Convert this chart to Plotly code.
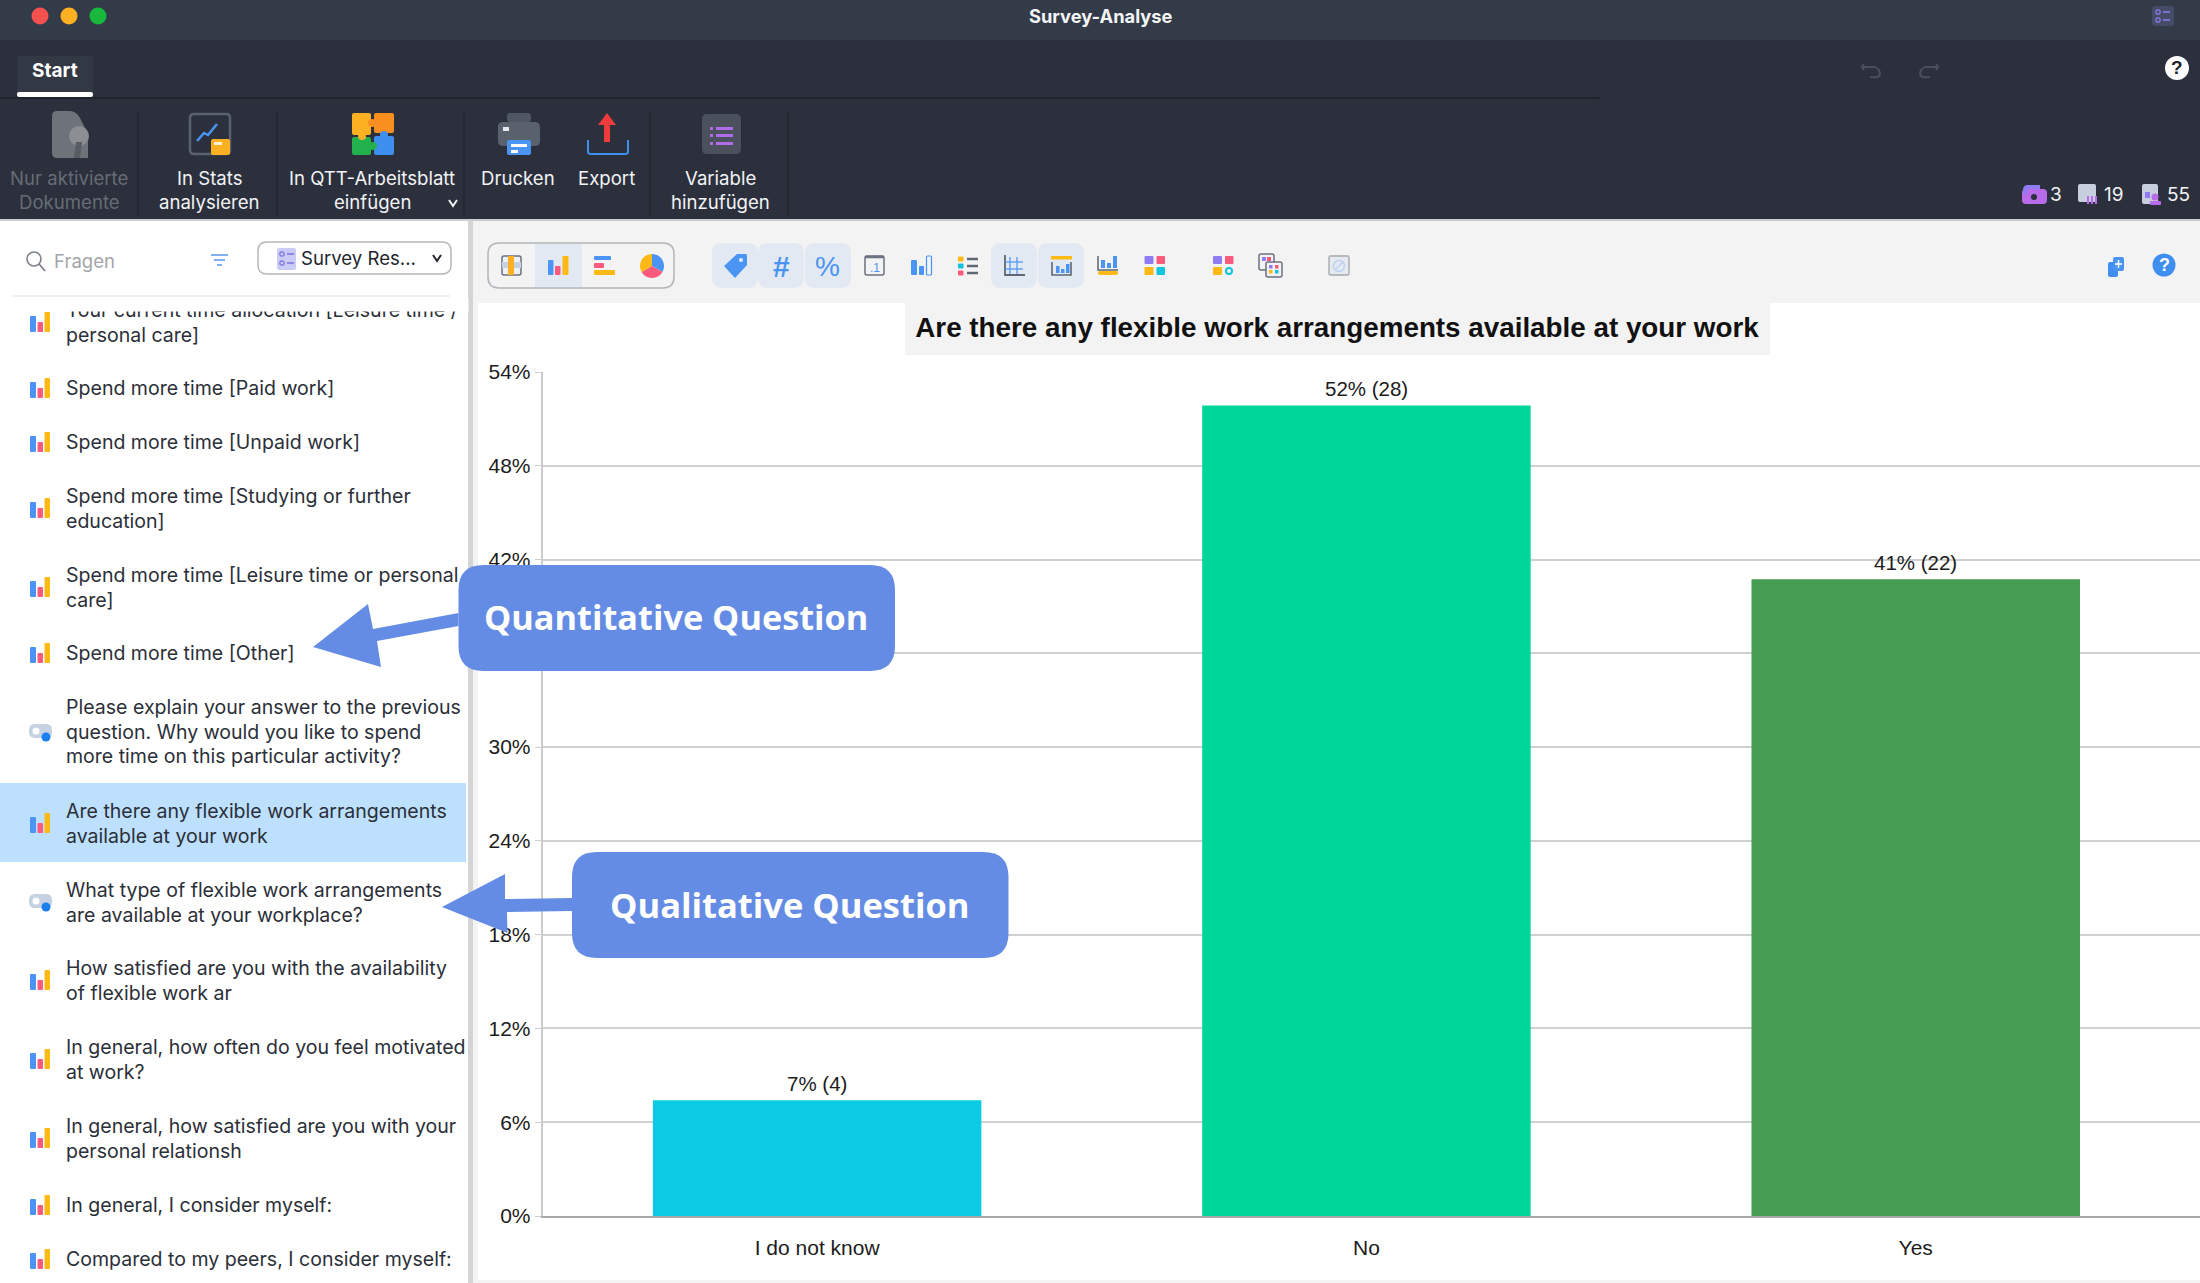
#!/usr/bin/env python3
import math
import re

import plotly.graph_objects as go

W = 2200
H = 1283

# chart data
categories = ["I do not know", "No", "Yes"]
percent_values = [7.41, 51.85, 40.74]
count_values = [4, 28, 22]
percent_labels = ["7%", "52%", "41%"]
bar_colors = ["#0bcce4", "#00d69a", "#459c53"]
y_ticks = [0, 6, 12, 18, 24, 30, 36, 42, 48, 54]
y_tick_labels = ["0%", "6%", "12%", "18%", "24%", "30%", "36%", "42%", "48%", "54%"]

chart_title = "Are there any flexible work arrangements available at your work"

# sidebar text, one entry per row
question_lines = [
    ["Your current time allocation [Leisure time /", "personal care]"],
    ["Spend more time [Paid work]"],
    ["Spend more time [Unpaid work]"],
    ["Spend more time [Studying or further", "education]"],
    ["Spend more time [Leisure time or personal", "care]"],
    ["Spend more time [Other]"],
    ["Please explain your answer to the previous", "question. Why would you like to spend", "more time on this particular activity?"],
    ["Are there any flexible work arrangements", "available at your work"],
    ["What type of flexible work arrangements", "are available at your workplace?"],
    ["How satisfied are you with the availability", "of flexible work ar"],
    ["In general, how often do you feel motivated", "at work?"],
    ["In general, how satisfied are you with your", "personal relationsh"],
    ["In general, I consider myself:"],
    ["Compared to my peers, I consider myself:"],
]
question_first_y = [310, 388, 442, 496, 575, 653, 707, 811, 890, 968, 1047, 1126, 1205, 1259]
question_icon_y = [322, 388, 442, 508, 587, 653, 732, 823, 902, 980, 1059, 1138, 1205, 1259]
question_kind = ["q", "q", "q", "q", "q", "q", "t", "q", "t", "q", "q", "q", "q", "q"]

ribbon_labels = [
    (69, ["Nur aktivierte", "Dokumente"], "#666c75"),
    (209, ["In Stats", "analysieren"], "#f2f3f5"),
    (372, ["In QTT-Arbeitsblatt", "einfügen"], "#f2f3f5"),
    (518, ["Drucken"], "#f2f3f5"),
    (607, ["Export"], "#f2f3f5"),
    (721, ["Variable", "hinzufügen"], "#f2f3f5"),
]

BLUE = "#4a94f4"
PINK = "#fb5a7c"
YELLOW = "#ffb914"
CYAN = "#0fc4dc"
PURPLE = "#8f7cf5"
SLATE = "#5f6773"
CALLOUT = "#648ce4"
SANS = "Liberation Sans"
UI = "Inter"

shapes = []
notes = []


def px_path(d):
    # path written in window pixels, turned into paper fractions
    out = []
    is_x = True
    for tok in re.findall(r"[A-Za-z]|-?[\d.]+", d):
        if tok.isalpha():
            out.append(tok)
            is_x = True
        elif is_x:
            out.append(f"{float(tok) / W:.5f}")
            is_x = False
        else:
            out.append(f"{1 - float(tok) / H:.5f}")
            is_x = True
    return " ".join(out)


def path(d, fill=None, line=None, lw=0, layer="above"):
    shapes.append(dict(
        type="path", xref="paper", yref="paper", path=px_path(d), layer=layer,
        fillcolor=fill if fill else "rgba(0,0,0,0)",
        line=dict(color=line if line else "rgba(0,0,0,0)", width=lw),
    ))


def box(x0, y0, x1, y1, fill=None, line=None, lw=0, r=0, layer="above"):
    if r:
        d = (f"M {x0 + r} {y0} L {x1 - r} {y0} Q {x1} {y0} {x1} {y0 + r} L {x1} {y1 - r} "
             f"Q {x1} {y1} {x1 - r} {y1} L {x0 + r} {y1} Q {x0} {y1} {x0} {y1 - r} "
             f"L {x0} {y0 + r} Q {x0} {y0} {x0 + r} {y0} Z")
    else:
        d = f"M {x0} {y0} L {x1} {y0} L {x1} {y1} L {x0} {y1} Z"
    path(d, fill, line, lw, layer)


def dot(cx, cy, r, fill=None, line=None, lw=0):
    shapes.append(dict(
        type="circle", xref="paper", yref="paper",
        x0=(cx - r) / W, x1=(cx + r) / W, y0=1 - (cy + r) / H, y1=1 - (cy - r) / H,
        fillcolor=fill if fill else "rgba(0,0,0,0)",
        line=dict(color=line if line else "rgba(0,0,0,0)", width=lw),
    ))


def seg(x0, y0, x1, y1, color, lw=2):
    path(f"M {x0} {y0} L {x1} {y1}", None, color, lw)


def wedge(cx, cy, r, a0, a1, fill):
    pts = [f"M {cx} {cy}"]
    for i in range(13):
        a = math.radians(a0 + (a1 - a0) * i / 12)
        pts.append(f"L {cx + r * math.sin(a):.2f} {cy - r * math.cos(a):.2f}")
    path(" ".join(pts) + " Z", fill)


def text(x, y, s, size, color, family=UI, anchor="left", bold=False):
    notes.append(dict(
        xref="paper", yref="paper", x=x / W, y=1 - y / H, text=f"<b>{s}</b>" if bold else s,
        showarrow=False, xanchor=anchor, yanchor="middle", borderpad=0, borderwidth=0,
        font=dict(family=family, size=size, color=color),
    ))


def bar_icon(cy):
    box(30, cy - 6, 36, cy + 10, BLUE, r=1)
    box(37.5, cy, 43, cy + 10, PINK, r=1)
    box(44.5, cy - 10, 50, cy + 10, YELLOW, r=1)


def toggle_icon(cy):
    box(29, cy - 8, 52, cy + 6, "#c6d2e2", r=6)
    dot(36, cy - 1, 3.5, "#ffffff")
    dot(46, cy + 5, 4.5, "#1a7ff0")


# window panels
box(0, 0, W, 40, "#333b48", layer="below")
box(0, 40, W, 220, "#2b303c", layer="below")
box(0, 220, W, H, "#f3f3f3", layer="below")
box(0, 220, 468, H, "#ffffff", layer="below")
box(468, 220, 473, H, "#d4d4d4", layer="below")
box(478, 303, W, 1280, "#ffffff", layer="below")
box(905, 303, 1770, 355, "#f3f3f3", layer="below")
box(0, 219, W, 221, "#c9ccd0", layer="below")
box(0, 97, 1600, 99, "#1f232c", layer="below")
box(0, 783, 466, 862, "#bde0fe", layer="below")
box(12, 295, 450, 297, "#f0f0f0", layer="below")

# title bar
dot(40, 16, 8.5, "#f5514e")
dot(69, 16, 8.5, "#fdb022")
dot(98, 16, 8.5, "#17b83c")
text(1101, 16, "Survey-Analyse", 18.3, "#f4f5f7", UI, "center", True)
box(2152, 6, 2174, 26, "#454c68", r=3)
for yy in (12, 20):
    dot(2158, yy, 2.2, None, PURPLE, 1.2)
    seg(2163, yy, 2170, yy, PURPLE, 1.5)

# tab row
box(17, 56, 93, 92, "#323844")
box(17, 92, 93, 97, "#ffffff", r=2)
text(54.5, 70, "Start", 19, "#ffffff", UI, "center", True)
path("M 1864 64 Q 1861 67 1864 70 M 1861 67 L 1875 67 Q 1882 71 1879 76 Q 1877 78 1870 77", None, "#4a505b", 2)
path("M 1936 64 Q 1939 67 1936 70 M 1939 67 L 1925 67 Q 1918 71 1921 76 Q 1923 78 1930 77", None, "#4a505b", 2)
dot(2177, 68, 12, "#ffffff")
text(2177, 68, "?", 19, "#20242c", SANS, "center", True)

# ribbon
for xx in (138, 277, 464, 650, 788):
    seg(xx, 112, xx, 216, "#22262f", 1.5)
for xx, lines, col in ribbon_labels:
    for i, line in enumerate(lines):
        text(xx, 178 + i * 24, line, 18.6, col, UI, "center")
path("M 449 200 L 453 206 L 457 200", None, "#f2f3f5", 2)

# nur aktivierte icon
path("M 52 116 Q 52 111 57 111 L 70 111 Q 76 111 80 118 L 88 134 L 88 158 L 57 158 Q 52 158 52 153 Z", "#6e7279")
dot(79, 136, 10, "#8b8f94")
path("M 76 142 L 82 142 L 80 158 L 74 158 Z", "#585c63")

# in stats icon
box(190, 114, 230, 154, None, "#59616e", 2.5, r=4)
path("M 197 141 L 204 133 L 208 135 L 217 124", None, "#4a94f4", 2.5)
box(211, 139, 230, 155, "#fdb022", r=2)
box(214, 142, 222, 145, "#fff3d0")

# puzzle icon
box(352, 113, 371, 135, "#fdb022", r=2)
box(374, 113, 394, 133, "#f98f1f", r=2)
box(352, 137, 371, 155, "#22b14c", r=2)
box(374, 136, 394, 155, "#3f8ff0", r=2)
dot(372, 123, 4, "#f98f1f")
dot(362, 136, 4, "#fdb022")
dot(373, 146, 4, "#22b14c")
dot(384, 135, 4, "#3f8ff0")

# printer icon
box(507, 113, 531, 122, "#4f5763", r=3)
box(498, 122, 540, 146, "#59616d", r=5)
box(503, 127, 509, 131, "#e6e8ec")
box(507, 140, 531, 155, BLUE, r=2)
box(511, 144, 527, 147, "#ffffff")
box(511, 150, 518, 153, "#ffffff")

# export icon
path("M 607 113 L 616 125 L 610 125 L 610 142 L 604 142 L 604 125 L 598 125 Z", "#ef3b3b")
path("M 588 140 L 588 152 Q 588 154 591 154 L 625 154 Q 628 154 628 152 L 628 140", None, "#3f8ff0", 2)

# variable icon
box(702, 114, 741, 154, "#4a505c", r=5)
for yy in (128, 135, 143):
    box(710, yy - 1, 713, yy + 2, "#b06be8")
    box(716, yy - 1, 733, yy + 2, "#b06be8")

# counters top right
box(2022, 189, 2047, 204, "#b96cea", r=4)
path("M 2023 190 Q 2023 185 2028 185 L 2040 185 L 2040 189 L 2027 189 L 2027 194 L 2023 194 Z", PURPLE)
dot(2034, 197, 3, "#2b303c")
text(2056, 194, "3", 19, "#f2f3f5", UI, "center")
box(2078, 184, 2096, 202, "#c7cfde", r=2)
for xx in (2088, 2092, 2096):
    seg(xx, 204, xx, 196, "#b96cea", 2)
text(2114, 194, "19", 19, "#f2f3f5", UI, "center")
box(2142, 184, 2158, 204, "#c7cfde", r=2)
dot(2155, 197, 3.5, "#b96cea")
box(2150, 201, 2161, 205, "#b96cea", r=1)
box(2145, 192, 2150, 198, PURPLE)
text(2178, 194, "55", 19, "#f2f3f5", UI, "center")

# search row in the sidebar
dot(34, 259, 7, None, "#7b8088", 1.6)
seg(39, 264, 45, 271, "#7b8088", 1.8)
text(54, 261, "Fragen", 18.6, "#a2a5aa", UI)
seg(211, 255, 228, 255, "#7fb2f0", 2)
seg(214, 260, 225, 260, "#7fb2f0", 2)
seg(217, 265, 222, 265, "#7fb2f0", 2)
box(258, 242, 451, 274, "#ffffff", "#b4b7bb", 1.5, r=9)
box(277, 248, 296, 270, "#c9cdf5", r=2)
for yy in (254, 263):
    dot(282, yy, 2.2, None, "#7a70e0", 1.2)
    seg(287, yy, 294, yy, "#7a70e0", 1.5)
text(301, 258, "Survey Res...", 18.6, "#23262d", UI)
path("M 433 255 L 437 261 L 441 255", None, "#23262d", 2)

# question list
for lines, first_y, icon_y, kind in zip(question_lines, question_first_y, question_icon_y, question_kind):
    if kind == "q":
        bar_icon(icon_y)
    else:
        toggle_icon(icon_y)
    for i, line in enumerate(lines):
        text(66, first_y + i * 24.7, line, 19.55, "#2b2f38")

# first row is cut off by the top of the list
notes.append(dict(
    xref="paper", yref="paper", x=60 / W, y=1 - 297 / H, text=" ", showarrow=False,
    xanchor="left", yanchor="top", width=405, height=11, bgcolor="#ffffff",
))

# toolbar above the chart
box(488, 243, 674, 288, "#f3f3f3", "#b2b6bb", 1.5, r=11)
box(535, 244, 582, 287, "#e3e9f2")
for x0, x1 in ((712, 758), (758, 804), (805, 851), (991, 1037), (1038, 1084)):
    box(x0, 243, x1, 288, "#e3e9f2", r=10)

# table icon
box(502, 256, 521, 275, "#eef0f3", "#6b7280", 1.5, r=2)
box(502, 262, 521, 268, "#c6d2e2")
box(508, 256, 514, 275, "#fdb022")
# bars icon
box(548, 260, 553.5, 275, BLUE, r=1)
box(555, 266, 560.5, 275, PINK, r=1)
box(562.5, 256, 568.5, 275, YELLOW, r=1)
# horizontal bars icon
box(594, 256, 611, 260, BLUE, r=1)
box(594, 263, 604, 268, PINK, r=1)
box(594, 270, 615, 275, YELLOW, r=1)
# pie icon
wedge(652, 266, 12, 0, 120, BLUE)
wedge(652, 266, 12, 120, 240, PINK)
wedge(652, 266, 12, 240, 360, YELLOW)
# tag, hash, percent
path("M 724 266 L 737 254 L 746 254 Q 747 254 747 256 L 747 265 L 735 278 Z", BLUE)
dot(741, 260, 2, "#e3e9f2")
text(781, 266, "#", 30, BLUE, SANS, "center", True)
text(827.5, 266, "%", 28, BLUE, SANS, "center")
# decimals icon
box(865, 256, 884, 275, "#f3f3f3", "#6b7280", 1.5, r=2)
seg(865, 257, 884, 257, "#6b7280", 2.5)
text(875, 268, ".1", 12, BLUE, SANS, "center")
# hollow bars icon
box(911, 260, 917, 275, BLUE, r=1)
box(919, 266, 924, 275, BLUE, r=1)
box(926.5, 256, 931.5, 275, None, BLUE, 1.2, r=1)
# list icon
for yy, col in ((259, YELLOW), (266, CYAN), (273, PINK)):
    box(958, yy - 2.5, 963.5, yy + 2.5, col, r=1)
    seg(967, yy, 978, yy, SLATE, 2.5)
# grid icon
path("M 1005 255 L 1005 275 L 1025 275", None, SLATE, 1.8)
for xx in (1010, 1017):
    seg(xx, 257, xx, 274, BLUE, 1.2)
for yy in (262, 269):
    seg(1005, yy, 1023, yy, BLUE, 1.2)
# title and bars icon
box(1051, 256, 1072, 259.5, YELLOW)
path("M 1052 262 L 1052 275 L 1071 275 L 1071 262", None, SLATE, 1.6)
for x0, y0 in ((1056, 266), (1061, 269), (1066, 264)):
    box(x0, y0, x0 + 3.5, 273, BLUE)
# bars and legend icon
path("M 1098 256 L 1098 270 L 1118 270", None, SLATE, 1.5)
for x0, y0 in ((1101, 260), (1107, 263), (1113, 256)):
    box(x0, y0, x0 + 4, 268, BLUE)
box(1098, 271, 1118, 275, YELLOW, r=2)
# colour squares
for off in (0, 68.5):
    box(1144.5 + off, 256, 1153.5 + off, 264, PURPLE, r=1)
    box(1156.5 + off, 256, 1165 + off, 264, PINK, r=1)
    box(1144.5 + off, 267, 1153.5 + off, 275, YELLOW, r=1)
box(1156.5, 267, 1165, 275, CYAN, r=1)
dot(1229, 271, 3, None, CYAN, 2)
# duplicate palette icon
box(1259, 254, 1274, 270, "#f3f3f3", "#6b7280", 1.5, r=2)
box(1262, 257, 1266, 261, PURPLE)
box(1267, 257, 1271, 261, PINK)
box(1266, 262, 1282, 277, "#f3f3f3", "#6b7280", 1.5, r=2)
box(1269, 265, 1272.5, 268.5, PURPLE)
box(1275, 265, 1278.5, 268.5, PINK)
box(1269, 270, 1272.5, 273.5, YELLOW)
box(1275, 270, 1278.5, 273.5, CYAN)
# disabled icon
box(1329, 256, 1349, 275, "#e6e9ee", "#b6b9bd", 1.8, r=2)
dot(1339, 266, 5.5, None, "#bcd3f3", 1.5)
seg(1335, 270, 1343, 262, "#bcd3f3", 1.5)

# right end of the toolbar
box(2108, 262, 2118, 277, "#3f8ff0", r=2)
box(2113, 257, 2124, 271, BLUE, r=2)
seg(2118.5, 260, 2118.5, 268, "#ffffff", 1.6)
seg(2115, 264, 2122, 264, "#ffffff", 1.6)
dot(2164, 265, 11.5, "#3f8ff0")
text(2164, 265, "?", 18, "#ffffff", SANS, "center", True)

# callouts
box(458.5, 565, 895, 671, CALLOUT, r=25)
path("M 313 647 L 368 604 L 373 629 L 458.5 613 L 458.5 626 L 377 641 L 381 667 Z", CALLOUT)
text(676, 616.5, "Quantitative Question", 34.3, "#ffffff", "Open Sans", "center", True)
box(572, 852, 1008.5, 958, CALLOUT, r=25)
path("M 442 907 L 505 874 L 505 899 L 572 898 L 572 911 L 507 912 L 507.5 933 Z", CALLOUT)
text(789.5, 904, "Qualitative Question", 34.5, "#ffffff", "Open Sans", "center", True)

# value labels sit a bit higher than plotly's outside text, so they hang off the bar tops
for cat, val, pct, cnt in zip(categories, percent_values, percent_labels, count_values):
    notes.append(dict(
        xref="x", yref="y", x=cat, y=val, text=f"{pct} ({cnt})", showarrow=False,
        yanchor="middle", yshift=17,
        font=dict(family=SANS, size=20.5, color="#1c1c1c"),
    ))

fig = go.Figure(go.Bar(
    x=categories,
    y=percent_values,
    marker=dict(color=bar_colors, line=dict(width=0)),
    hoverinfo="x+y",
))

fig.update_layout(
    width=W,
    height=H,
    margin=dict(l=0, r=0, t=0, b=0),
    autosize=False,
    showlegend=False,
    paper_bgcolor="#ffffff",
    plot_bgcolor="rgba(0,0,0,0)",
    bargap=0.402,
    title=dict(
        text=f"<b>{chart_title}</b>", xref="paper", yref="paper", x=1337 / W, y=1 - 327 / H,
        xanchor="center", yanchor="middle",
        font=dict(family=SANS, size=27.8, color="#111111"),
    ),
    xaxis=dict(
        domain=[542.5 / W, 1],
        type="category",
        range=[-0.5, 2.5175],
        automargin=False,
        showgrid=False,
        showline=True,
        linecolor="#a9a9a9",
        linewidth=2,
        ticks="outside",
        ticklen=12,
        tickcolor="rgba(0,0,0,0)",
        tickfont=dict(family=SANS, size=21, color="#1c1c1c"),
        fixedrange=True,
    ),
    yaxis=dict(
        domain=[1 - 1216 / H, 1 - 372 / H],
        range=[0, 54],
        automargin=False,
        tickmode="array",
        tickvals=y_ticks,
        ticktext=y_tick_labels,
        showgrid=True,
        gridcolor="#d0d0d0",
        gridwidth=2,
        showline=True,
        linecolor="#cccccc",
        linewidth=1.5,
        ticks="outside",
        ticklen=6,
        tickcolor="#cccccc",
        tickfont=dict(family=SANS, size=21, color="#1c1c1c"),
        zeroline=False,
        fixedrange=True,
    ),
    shapes=shapes,
    annotations=notes,
)

# the page's default body margin would push the figure out of the window
fig.write_html(
    "out.html",
    config=dict(displayModeBar=False),
    post_script=(
        "document.documentElement.style.overflow='hidden';"
        "document.body.style.margin='0';document.body.style.overflow='hidden';"
        "var gd=document.getElementById('{plot_id}');"
        "gd.style.position='fixed';gd.style.left='0';gd.style.top='0';"
    ),
)
